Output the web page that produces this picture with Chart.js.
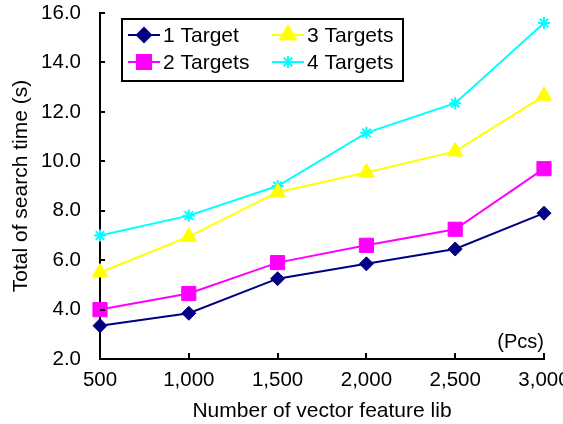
<!DOCTYPE html>
<html>
<head>
<meta charset="utf-8">
<script src="https://cdn.jsdelivr.net/npm/chart.js@4.4.1/dist/chart.umd.min.js"></script>
<style>
  html, body { margin: 0; padding: 0; background: #fff; }
  #wrap { width: 563px; height: 424px; position: relative; }
</style>
</head>
<body>
<div id="wrap"><canvas id="chart"></canvas></div>
<script>
// values
const libSizes = ['500', '1,000', '1,500', '2,000', '2,500', '3,000'];
const oneTarget = [3.35, 3.85, 5.25, 5.85, 6.45, 7.9];
const twoTargets = [4.0, 4.65, 5.9, 6.6, 7.25, 9.7];
const threeTargets = [5.5, 6.95, 8.75, 9.55, 10.4, 12.65];
const fourTargets = [7.0, 7.8, 9.0, 11.15, 12.35, 15.6];
const seriesNames = ['1 Target', '2 Targets', '3 Targets', '4 Targets'];

const FONT = '"Liberation Sans", Arial, sans-serif';

function series(label, data, color, style, radius) {
    return {
        label: label,
        data: data,
        borderColor: color,
        backgroundColor: color,
        borderWidth: 2,
        pointStyle: style,
        pointRadius: radius,
        pointBorderWidth: style === 'star' ? 2 : 1,
        pointBorderColor: color,
        tension: 0
    };
}

// ticks pointing into the plot, plus the legend box and the unit note
const decorations = {
    id: 'decorations',
    afterDraw(chart) {
        const ctx = chart.ctx;
        const area = chart.chartArea;
        const x = chart.scales.x, y = chart.scales.y;
        ctx.save();
        ctx.strokeStyle = '#000';
        ctx.lineWidth = 2;
        ctx.beginPath();
        y.ticks.forEach((t, i) => {
            const py = Math.round(y.getPixelForTick(i));
            ctx.moveTo(area.left, py);
            ctx.lineTo(area.left + 5, py);
        });
        x.ticks.forEach((t, i) => {
            const px = Math.round(x.getPixelForTick(i));
            ctx.moveTo(px, area.bottom);
            ctx.lineTo(px, area.bottom - 6);
        });
        ctx.stroke();

        // unit note
        ctx.fillStyle = '#000';
        ctx.font = '20px ' + FONT;
        ctx.textAlign = 'right';
        ctx.textBaseline = 'middle';
        ctx.fillText('(Pcs)', area.right, area.bottom - 17);

        // legend
        const bx = area.left + 22, by = area.top + 6, bw = 281, bh = 62;
        ctx.lineWidth = 2;
        ctx.strokeRect(bx, by, bw, bh);
        const cols = [bx + 6, bx + 150];
        const rows = [by + 16, by + 43];
        chart.data.datasets.forEach((ds, i) => {
            const cx = cols[Math.floor(i / 2)];
            const cy = rows[i % 2];
            ctx.strokeStyle = ds.borderColor;
            ctx.lineWidth = 2;
            ctx.beginPath();
            ctx.moveTo(cx, cy);
            ctx.lineTo(cx + 32, cy);
            ctx.stroke();
            Chart.helpers.drawPoint(ctx, {
                pointStyle: ds.pointStyle,
                radius: ds.pointRadius,
                borderWidth: ds.pointBorderWidth,
                rotation: 0
            }, cx + 16, cy);
            ctx.fillStyle = ds.backgroundColor;
            ctx.fill();
            ctx.fillStyle = '#000';
            ctx.textAlign = 'left';
            ctx.font = '21px ' + FONT;
            ctx.fillText(ds.label, cx + 35, cy + 1);
        });
        ctx.restore();
    }
};

new Chart(document.getElementById('chart'), {
    type: 'line',
    data: {
        labels: libSizes,
        datasets: [
            series(seriesNames[0], oneTarget, '#000080', 'rectRot', 7),
            series(seriesNames[1], twoTargets, '#ff00ff', 'rect', 10),
            series(seriesNames[2], threeTargets, '#ffff00', 'triangle', 9),
            series(seriesNames[3], fourTargets, '#00ffff', 'star', 6)
        ]
    },
    options: {
        responsive: true,
        maintainAspectRatio: false,
        animation: false,
        layout: { padding: { top: 13, right: 19, bottom: 0, left: 0 } },
        plugins: {
            legend: { display: false },
            tooltip: { enabled: false }
        },
        scales: {
            x: {
                offset: false,
                grid: { display: false },
                border: { display: true, color: '#000', width: 2 },
                ticks: { color: '#000', font: { family: FONT, size: 20.5 }, padding: 1, maxRotation: 0, autoSkip: false },
                title: { display: true, text: 'Number of vector feature lib', color: '#000', font: { family: FONT, size: 21 }, padding: { top: 10, bottom: 0 } },
                afterFit: s => { s.paddingLeft = 0; s.paddingRight = 0; s.height = 65; }
            },
            y: {
                min: 2, max: 16,
                grid: { display: false },
                border: { display: true, color: '#000', width: 2 },
                ticks: { stepSize: 2, color: '#000', font: { family: FONT, size: 20.5 }, padding: 11, callback: v => v.toFixed(1) },
                title: { display: true, text: 'Total of search time (s)', color: '#000', font: { family: FONT, size: 21 }, padding: { top: 9, bottom: 0 } },
                afterFit: s => { s.width = 100; s.paddingTop = 0; s.paddingBottom = 0; }
            }
        }
    },
    plugins: [decorations]
});
</script>
</body>
</html>
